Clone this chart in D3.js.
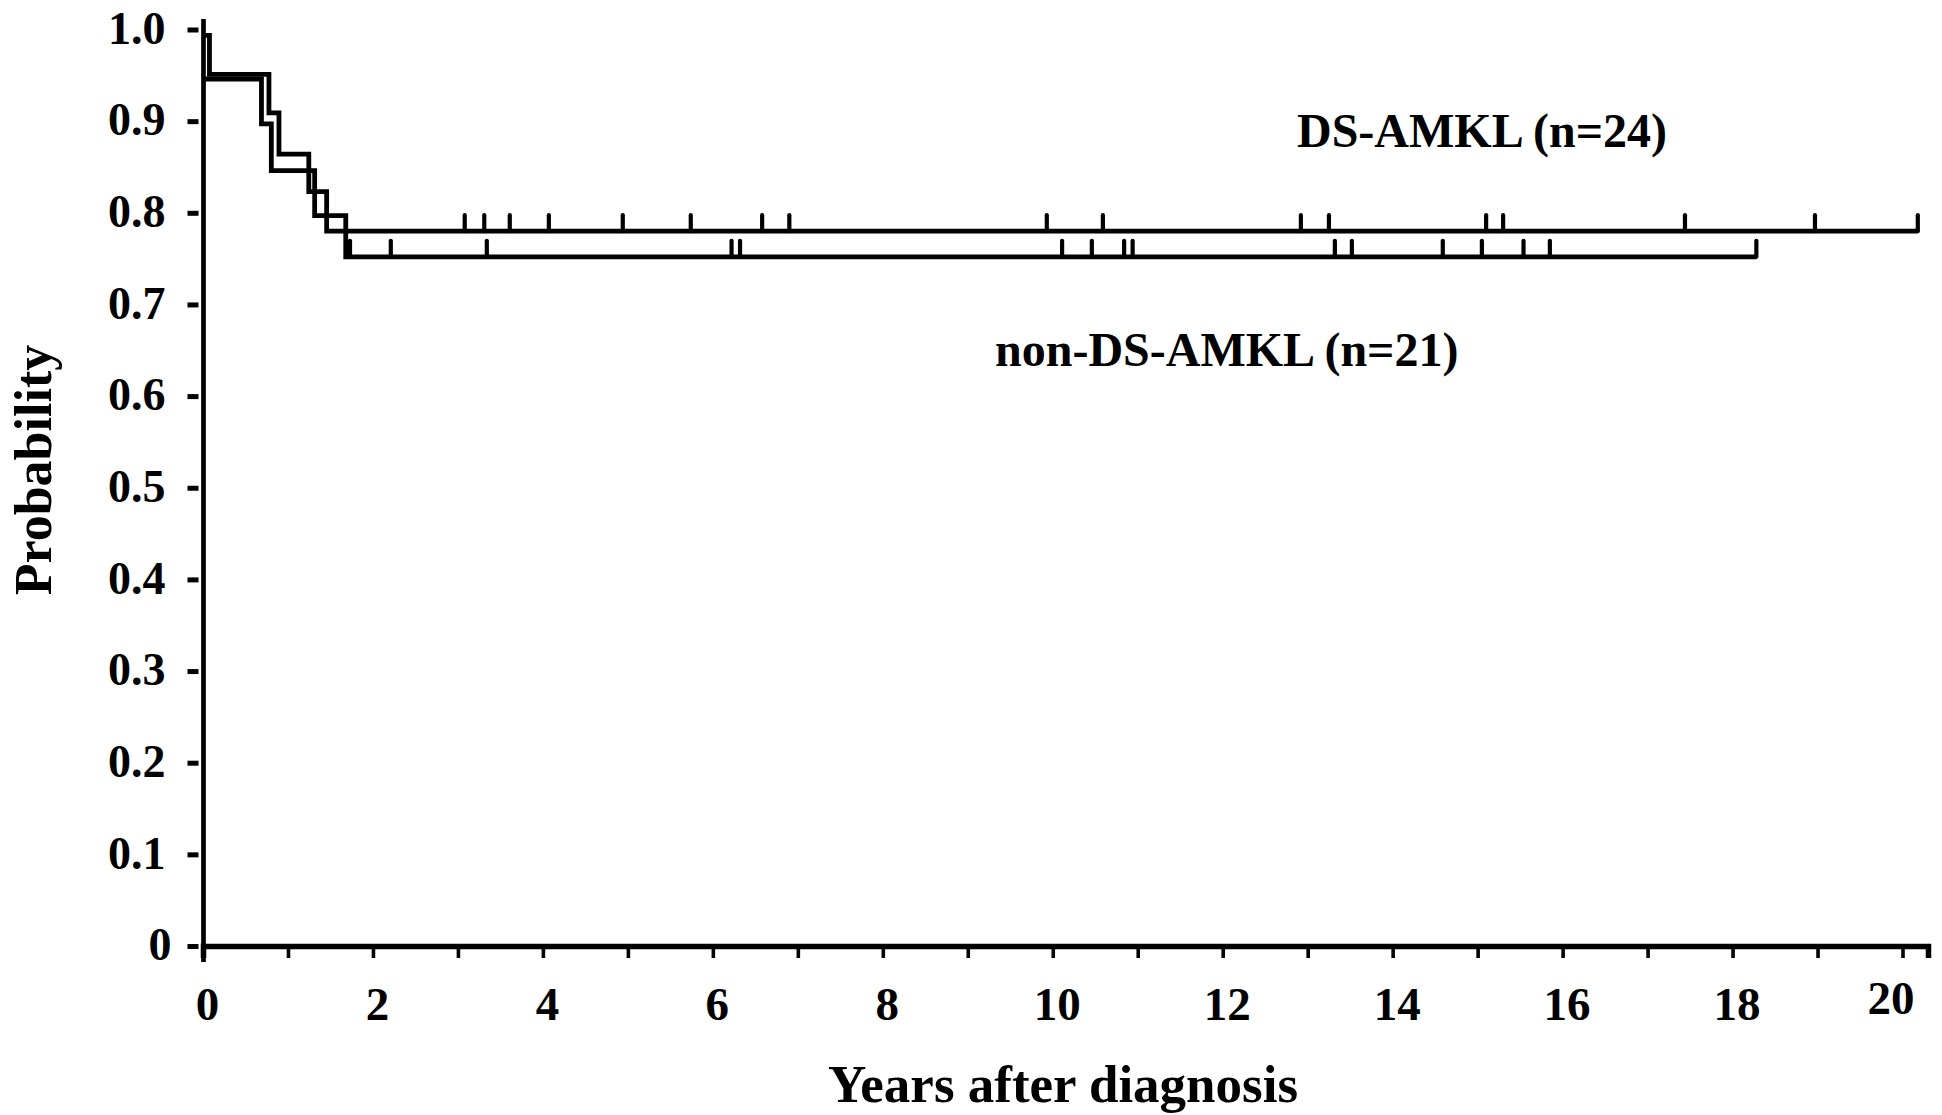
<!DOCTYPE html>
<html><head><meta charset="utf-8">
<script src="https://cdn.jsdelivr.net/npm/d3@7"></script>
<style>
body{margin:0;background:#fff}
svg{display:block}
text{font-family:"Liberation Serif","Times New Roman",Times,serif;font-weight:bold;fill:#000}
</style>
</head><body>
<svg id="c" width="1942" height="1115"></svg>
<script>
// ---- data ----
const yTickValues = [0, 0.1, 0.2, 0.3, 0.4, 0.5, 0.6, 0.7, 0.8, 0.9, 1.0];
const yTickLabels = ["0", "0.1", "0.2", "0.3", "0.4", "0.5", "0.6", "0.7", "0.8", "0.9", "1.0"];
const xTickValues = [0,1,2,3,4,5,6,7,8,9,10,11,12,13,14,15,16,17,18,19,20];
const xTickLabels = ["0","","2","","4","","6","","8","","10","","12","","14","","16","","18","","20"];

const dsEventTimes = [0, 0.076, 0.776, 0.894, 1.245, 1.455];
const dsSurvival   = [0.9935, 0.951, 0.909, 0.864, 0.823, 0.780];
const dsCensorTimes = [3.08, 3.31, 3.61, 4.07, 4.94, 5.74, 6.58, 6.90, 9.93, 10.59, 12.92, 13.25, 15.10, 15.30, 17.44, 18.97, 20.18];

const nonDsEventTimes = [0, 0.688, 0.804, 1.314, 1.68];
const nonDsSurvival   = [0.946, 0.897, 0.846, 0.797, 0.752];
const nonDsCensorTimes = [1.73, 2.21, 3.34, 6.22, 6.32, 10.11, 10.46, 10.84, 10.94, 13.32, 13.52, 14.59, 15.05, 15.54, 15.85, 18.28];

const groupLabels = ["DS-AMKL (n=24)", "non-DS-AMKL (n=21)"];
const xTitle = "Years after diagnosis";
const yTitle = "Probability";

// ---- drawing ----
const svg = d3.select("#c");
const x = d3.scaleLinear().domain([0, 20.3]).range([203, 1928]);
const y = d3.scaleLinear().domain([0, 1]).range([946, 29.5]);

function survAt(times, surv, t){
  let s = surv[0];
  for (let i = 0; i < times.length; i++) if (times[i] <= t) s = surv[i];
  return s;
}

function drawCurve(times, surv, censors){
  const end = censors[censors.length - 1];
  const pts = times.map((t, i) => [t, surv[i]]);
  pts.push([end, surv[surv.length - 1]]);
  const line = d3.line().x(d => x(d[0])).y(d => y(d[1])).curve(d3.curveStepAfter);
  svg.append("path").attr("d", line(pts))
    .attr("fill", "none").attr("stroke", "#000").attr("stroke-width", 4.8)
    .attr("stroke-linejoin", "miter");
  svg.append("g").selectAll("line").data(censors).join("line")
    .attr("x1", d => x(d)).attr("x2", d => x(d))
    .attr("y1", d => y(survAt(times, surv, d)))
    .attr("y2", d => y(survAt(times, surv, d)) - 16)
    .attr("stroke", "#000").attr("stroke-width", 4.2).attr("stroke-linecap", "round");
}

// X axis
const gx = svg.append("g").attr("transform", "translate(0,946)")
  .call(d3.axisBottom(x).tickValues(xTickValues).tickSizeOuter(0).tickSize(12)
    .tickFormat((d, i) => xTickLabels[i]));
gx.select(".domain").attr("stroke", "#000").attr("stroke-width", 5.5);
gx.selectAll(".tick line").attr("stroke", "#000").attr("stroke-width", 3.6);
gx.selectAll(".tick text")
  .attr("y", (d, i) => xTickLabels[i] === "20" ? 68 : 74).attr("dy", 0)
  .attr("dx", (d, i) => xTickLabels[i] === "20" ? -12 : 4)
  .attr("font-size", 47).attr("fill", "#000")
  .style("font-family", '"Liberation Serif","Times New Roman",serif').style("font-weight", "bold");

// Y axis
const gy = svg.append("g").attr("transform", "translate(203.5,0)")
  .call(d3.axisLeft(y).tickValues(yTickValues).tickSizeOuter(0)
    .tickFormat((d, i) => yTickLabels[i]));
gy.select(".domain").remove();
gy.selectAll(".tick line").attr("x1", -5).attr("x2", -16).attr("stroke", "#000").attr("stroke-width", 5);
gy.selectAll(".tick text").attr("x", -38).attr("dy", "0.3em")
  .attr("dx", (d, i) => yTickLabels[i] === "0" ? 6 : 0)
  .attr("font-size", 46).attr("fill", "#000")
  .style("font-family", '"Liberation Serif","Times New Roman",serif').style("font-weight", "bold");
gy.append("line").attr("x1", 0).attr("x2", 0).attr("y1", 19).attr("y2", 962)
  .attr("stroke", "#000").attr("stroke-width", 4.7);

// Curves
drawCurve(dsEventTimes, dsSurvival, dsCensorTimes);
drawCurve(nonDsEventTimes, nonDsSurvival, nonDsCensorTimes);

// Labels
svg.append("text").attr("x", 1297).attr("y", 147).attr("font-size", 48).text(groupLabels[0]);
svg.append("text").attr("x", 995).attr("y", 366).attr("font-size", 48).text(groupLabels[1]);

svg.append("text").attr("x", 1063).attr("y", 1102).attr("text-anchor", "middle")
  .attr("font-size", 53).text(xTitle);
svg.append("text").attr("transform", "translate(51,470) rotate(-90)")
  .attr("text-anchor", "middle").attr("font-size", 52).text(yTitle);
</script>
</body></html>
